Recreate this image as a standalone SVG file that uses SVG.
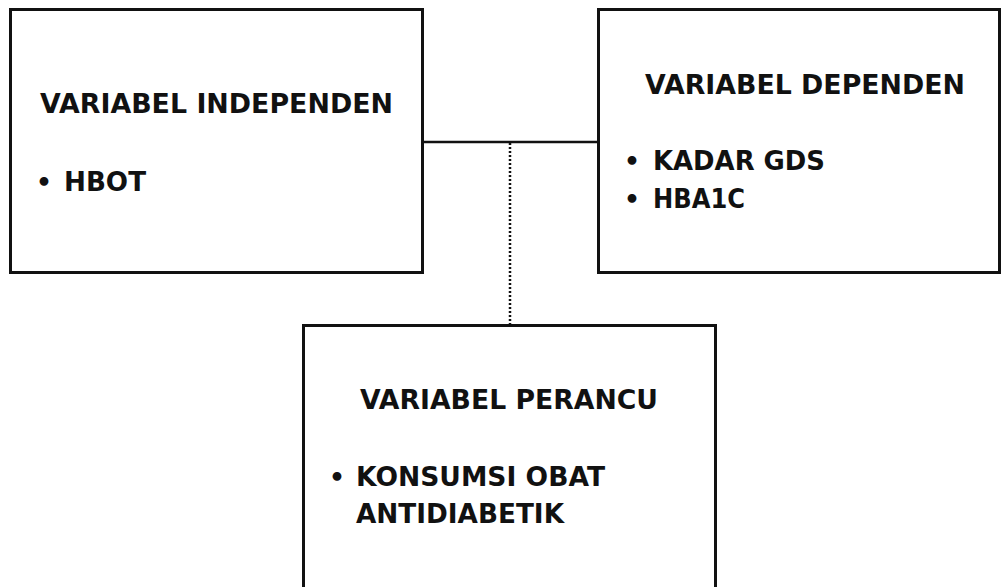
<svg xmlns="http://www.w3.org/2000/svg" width="1001" height="587" viewBox="0 0 1001 587">
<style>
.box{fill:#fff;stroke:#111;stroke-width:3}
.t{font-family:"DejaVu Sans","Open Sans",sans-serif;font-weight:700;font-size:26.5px;fill:#111}
.b{font-family:"DejaVu Sans","Open Sans",sans-serif;font-weight:700;font-size:25px;fill:#111}
.line{stroke:#111;stroke-width:2.5;fill:none}
.dot{stroke:#111;stroke-width:2.5;fill:none;stroke-dasharray:2 2}
</style>
<rect width="1001" height="587" fill="#fff"/>
<g id="connectors">
<line class="line" x1="423" y1="142" x2="598" y2="142"/>
<line class="dot" x1="510" y1="143" x2="510" y2="325"/>
</g>
<g id="independen">
<rect class="box" x="10.5" y="9.5" width="412" height="263"/>
<text class="t" x="40" y="113" textLength="353" lengthAdjust="spacingAndGlyphs">VARIABEL INDEPENDEN</text>
<text class="b" x="36" y="191">•</text>
<text class="t" x="64" y="191" textLength="82" lengthAdjust="spacingAndGlyphs">HBOT</text>
</g>
<g id="dependen">
<rect class="box" x="598.5" y="9.5" width="401" height="263"/>
<text class="t" x="645" y="94" textLength="320" lengthAdjust="spacingAndGlyphs">VARIABEL DEPENDEN</text>
<text class="b" x="624" y="170">•</text>
<text class="t" x="653" y="170" textLength="172" lengthAdjust="spacingAndGlyphs">KADAR GDS</text>
<text class="b" x="624" y="208">•</text>
<text class="t" x="653" y="208" textLength="92" lengthAdjust="spacingAndGlyphs">HBA1C</text>
</g>
<g id="perancu">
<rect class="box" x="303.5" y="325.5" width="412" height="270"/>
<text class="t" x="360" y="409" textLength="298" lengthAdjust="spacingAndGlyphs">VARIABEL PERANCU</text>
<text class="b" x="329" y="486">•</text>
<text class="t" x="356" y="486" textLength="249" lengthAdjust="spacingAndGlyphs">KONSUMSI OBAT</text>
<text class="t" x="356" y="523" textLength="208" lengthAdjust="spacingAndGlyphs">ANTIDIABETIK</text>
</g>
</svg>
